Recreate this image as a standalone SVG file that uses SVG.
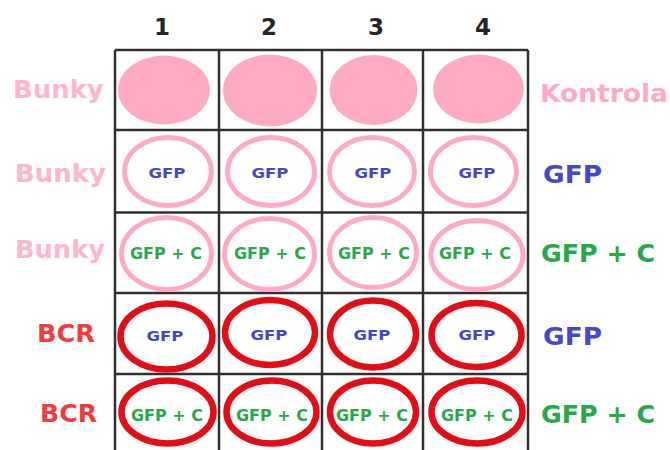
<svg xmlns="http://www.w3.org/2000/svg" width="670" height="450" viewBox="0 0 670 450">
<style>
text{font-family:"DejaVu Sans","Liberation Sans",sans-serif;font-weight:bold;text-anchor:middle}
.hdr{font-size:23px;fill:#262626}
.bunky{font-size:25px;fill:#ffb5ca}
.bcr{font-size:24px;fill:#ef3d3d}
.big{font-size:25px}
.blue{fill:#4747cc}
.green{fill:#25aa4a}
.pinkt{fill:#ffaac4}
.s{font-size:14.5px}
.sc{font-size:15px}
.fill{fill:#ffaac3;stroke:none}
.po{fill:none;stroke:#ffa9c2;stroke-width:4.8}
.ro{fill:none;stroke:#e30d16;stroke-width:6.5}
.grid{stroke:#303030;stroke-width:2.5;fill:none}
</style>
<rect width="670" height="450" fill="#ffffff"/>
<g id="headers">
<text class="hdr" x="162" y="35">1</text>
<text class="hdr" x="269" y="35">2</text>
<text class="hdr" x="376" y="35">3</text>
<text class="hdr" x="483" y="35">4</text>
</g>
<g id="row-labels">
<text class="bunky" x="58.5" y="98" textLength="91" lengthAdjust="spacingAndGlyphs">Bunky</text>
<text class="bunky" x="60.5" y="182" textLength="91" lengthAdjust="spacingAndGlyphs">Bunky</text>
<text class="bunky" x="60" y="258" textLength="90" lengthAdjust="spacingAndGlyphs">Bunky</text>
<text class="bcr" x="66" y="342" textLength="58" lengthAdjust="spacingAndGlyphs">BCR</text>
<text class="bcr" x="68.5" y="422" textLength="57" lengthAdjust="spacingAndGlyphs">BCR</text>
</g>
<g id="right-labels">
<text class="big pinkt" x="604" y="102" textLength="128" lengthAdjust="spacingAndGlyphs">Kontrola</text>
<text class="big blue" x="572.5" y="183" textLength="59" lengthAdjust="spacingAndGlyphs">GFP</text>
<text class="big green" x="598" y="262" textLength="114" lengthAdjust="spacingAndGlyphs">GFP + C</text>
<text class="big blue" x="572.5" y="345" textLength="59" lengthAdjust="spacingAndGlyphs">GFP</text>
<text class="big green" x="598" y="423" textLength="114" lengthAdjust="spacingAndGlyphs">GFP + C</text>
</g>
<g id="connectors">
<path class="grid" d="M115,50 H528 M115,130 H528 M115,212.5 H528 M115,293 H528 M115,374 H528 M115,50 V450 M219,50 V450 M322,50 V450 M423,50 V450 M528,50 V450"/>
</g>
<g id="row1">
<g id="r1c1"><ellipse class="fill" cx="164" cy="90" rx="46" ry="34.5"/></g>
<g id="r1c2"><ellipse class="fill" cx="270" cy="90.5" rx="47" ry="36"/></g>
<g id="r1c3"><ellipse class="fill" cx="373.5" cy="90" rx="44" ry="35"/></g>
<g id="r1c4"><ellipse class="fill" cx="478.5" cy="89" rx="45.5" ry="34.5"/></g>
</g>
<g id="row2">
<g id="r2c1"><ellipse class="po" cx="168" cy="171.5" rx="43.5" ry="34"/><text class="s blue" x="167" y="178" textLength="37" lengthAdjust="spacingAndGlyphs">GFP</text></g>
<g id="r2c2"><ellipse class="po" cx="271" cy="171.5" rx="43.5" ry="34"/><text class="s blue" x="270" y="178" textLength="37" lengthAdjust="spacingAndGlyphs">GFP</text></g>
<g id="r2c3"><ellipse class="po" cx="372" cy="171.5" rx="42.5" ry="34"/><text class="s blue" x="373" y="178" textLength="37" lengthAdjust="spacingAndGlyphs">GFP</text></g>
<g id="r2c4"><ellipse class="po" cx="473.5" cy="171.5" rx="43" ry="34"/><text class="s blue" x="477" y="178" textLength="37" lengthAdjust="spacingAndGlyphs">GFP</text></g>
</g>
<g id="row3">
<g id="r3c1"><ellipse class="po" cx="166.5" cy="253.5" rx="45" ry="36"/><text class="sc green" x="166" y="258.5" textLength="72" lengthAdjust="spacingAndGlyphs">GFP + C</text></g>
<g id="r3c2"><ellipse class="po" cx="269.5" cy="254" rx="45" ry="35.5"/><text class="sc green" x="270" y="258.5" textLength="72" lengthAdjust="spacingAndGlyphs">GFP + C</text></g>
<g id="r3c3"><ellipse class="po" cx="373" cy="252.5" rx="43.5" ry="35"/><text class="sc green" x="374" y="258.5" textLength="72" lengthAdjust="spacingAndGlyphs">GFP + C</text></g>
<g id="r3c4"><ellipse class="po" cx="477" cy="255" rx="46" ry="34.5"/><text class="sc green" x="475" y="258.5" textLength="72" lengthAdjust="spacingAndGlyphs">GFP + C</text></g>
</g>
<g id="row4">
<g id="r4c1"><ellipse class="ro" cx="166.5" cy="336.5" rx="46" ry="33"/><text class="s blue" x="165" y="340.5" textLength="37" lengthAdjust="spacingAndGlyphs">GFP</text></g>
<g id="r4c2"><ellipse class="ro" cx="270" cy="332.5" rx="45" ry="32.5"/><text class="s blue" x="269" y="339.5" textLength="37" lengthAdjust="spacingAndGlyphs">GFP</text></g>
<g id="r4c3"><ellipse class="ro" cx="373" cy="334" rx="43" ry="33.5"/><text class="s blue" x="372" y="339.5" textLength="37" lengthAdjust="spacingAndGlyphs">GFP</text></g>
<g id="r4c4"><ellipse class="ro" cx="476.5" cy="335" rx="45" ry="32"/><text class="s blue" x="477" y="339.5" textLength="37" lengthAdjust="spacingAndGlyphs">GFP</text></g>
</g>
<g id="row5">
<g id="r5c1"><ellipse class="ro" cx="167.5" cy="412" rx="46" ry="31.5"/><text class="sc green" x="167" y="420.5" textLength="72" lengthAdjust="spacingAndGlyphs">GFP + C</text></g>
<g id="r5c2"><ellipse class="ro" cx="271.5" cy="412" rx="45" ry="31.5"/><text class="sc green" x="272" y="420.5" textLength="72" lengthAdjust="spacingAndGlyphs">GFP + C</text></g>
<g id="r5c3"><ellipse class="ro" cx="373" cy="412" rx="43" ry="31.5"/><text class="sc green" x="372" y="420.5" textLength="72" lengthAdjust="spacingAndGlyphs">GFP + C</text></g>
<g id="r5c4"><ellipse class="ro" cx="477" cy="412" rx="45.5" ry="31.5"/><text class="sc green" x="477" y="420.5" textLength="72" lengthAdjust="spacingAndGlyphs">GFP + C</text></g>
</g>
</svg>
